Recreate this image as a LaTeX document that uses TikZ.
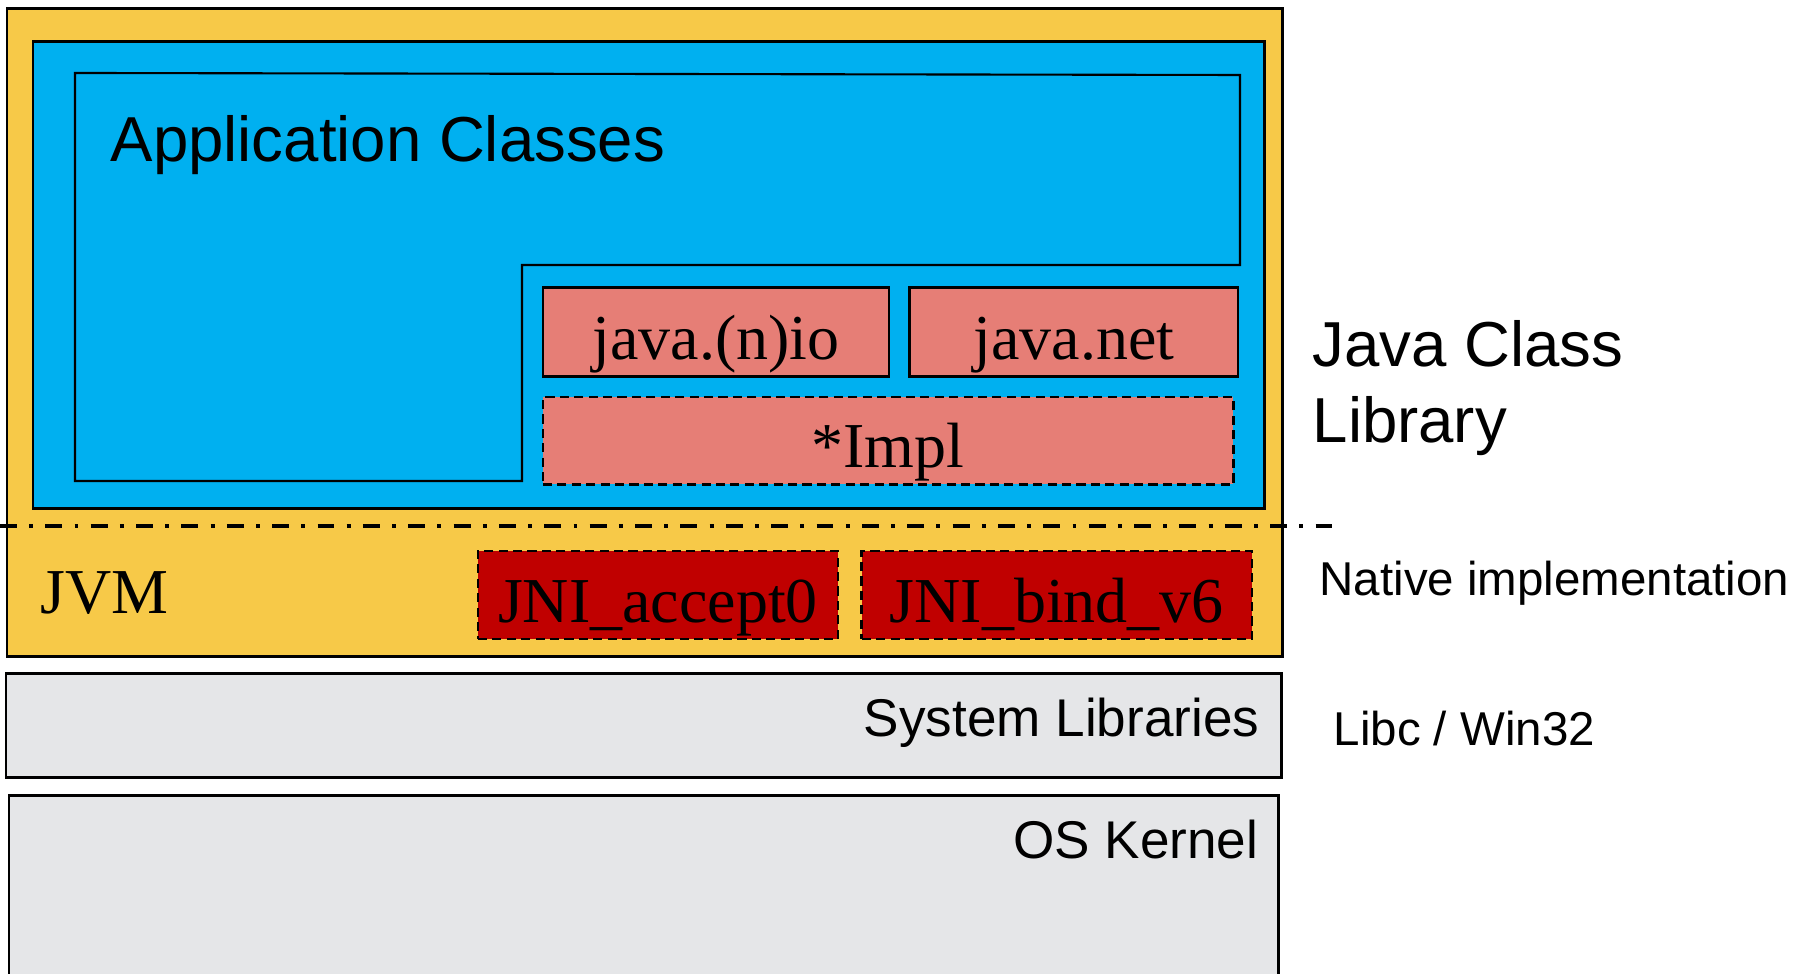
\documentclass[tikz,border=0pt]{standalone}
\usepackage{fontspec}
\setmainfont{Liberation Sans}
\newfontfamily\jvmserif{Liberation Serif}
\usetikzlibrary{positioning}

\definecolor{jvmyellow}{RGB}{247,201,72}
\definecolor{jclblue}{RGB}{0,176,240}
\definecolor{libsalmon}{RGB}{230,126,118}
\definecolor{nativered}{RGB}{192,0,0}
\definecolor{osgrey}{RGB}{229,230,232}

\tikzset{
  layer/.style={draw=black, line width=0.85pt},
  libbox/.style={draw=black, line width=0.75pt, fill=libsalmon, inner sep=0pt,
    text height=0.6cm, text depth=0.06cm,
    font=\jvmserif\fontsize{18.2}{21}\selectfont},
  implbox/.style={libbox, dash pattern=on 2.6pt off 1.5pt},
  nativebox/.style={implbox, fill=nativered},
  biglabel/.style={inner sep=0pt, font=\fontsize{18.07}{21.6}\selectfont},
  midlabel/.style={inner sep=0pt, font=\fontsize{15.1}{18}\selectfont},
  sidelabel/.style={inner sep=0pt, font=\fontsize{13.5}{16}\selectfont},
  sepline/.style={line width=1.1pt, dash pattern=on 4.8pt off 3.5pt on 1.1pt off 3.5pt}
}

\begin{document}
\begin{tikzpicture}[x=0.01cm, y=-0.01cm]
 \useasboundingbox (0,0) rectangle (1800,974);

 % layers
 \filldraw[layer, fill=jvmyellow] (7,9) rectangle (1282,657);
 \filldraw[layer, fill=jclblue] (33,42) rectangle (1264,509);
 \draw[line width=0.6pt] (75,73) -- (1240,75) -- (1240,265) -- (522,265)
   -- (522,481) -- (75,481) -- cycle;
 \filldraw[layer, fill=osgrey] (6,674) rectangle (1281,778);
 \filldraw[layer, fill=osgrey] (9,974) -- (9,796) -- (1278,796) -- (1278,974);

 % class library boxes
 \node[libbox, minimum width=3.46cm, minimum height=0.89cm] (nio) at (716,332) {java.(n)io};
 \node[libbox, minimum width=3.28cm, minimum height=0.89cm, right=0.18cm of nio] (net) {java.net};
 \node[implbox, minimum width=6.90cm, minimum height=0.87cm,
   below=0.18cm of nio.south west, anchor=north west] (impl) {*Impl};

 % native boxes
 \node[nativebox, minimum width=3.60cm, minimum height=0.88cm] (accept) at (658,595) {JNI\_accept0};
 \node[nativebox, minimum width=3.90cm, minimum height=0.88cm, right=0.21cm of accept] (bind) {JNI\_bind\_v6};

 % separator
 \coordinate (sepL) at (0,526);
 \coordinate (sepR) at (1343,526);
 \draw[sepline] (sepL) -- (sepR);

 % labels
 \node[biglabel, anchor=base west] (app) at (110,162) {Application Classes};
 \node[inner sep=0pt, anchor=base west, font=\jvmserif\fontsize{18.2}{21}\selectfont] (jvm) at (40,614) {JVM};
 \node[midlabel, anchor=base east] (syslib) at (1260,737) {System Libraries};
 \node[midlabel, anchor=base east] (kernel) at (1259,859) {OS Kernel};
 \node[biglabel, anchor=north west, align=left] (jcl) at (1312,320) {Java Class\\Library};
 \node[sidelabel, anchor=base west] (native) at (1319,596) {Native implementation};
 \node[sidelabel, anchor=base west] (libc) at (1333,746) {Libc / Win32};
\end{tikzpicture}
\end{document}
